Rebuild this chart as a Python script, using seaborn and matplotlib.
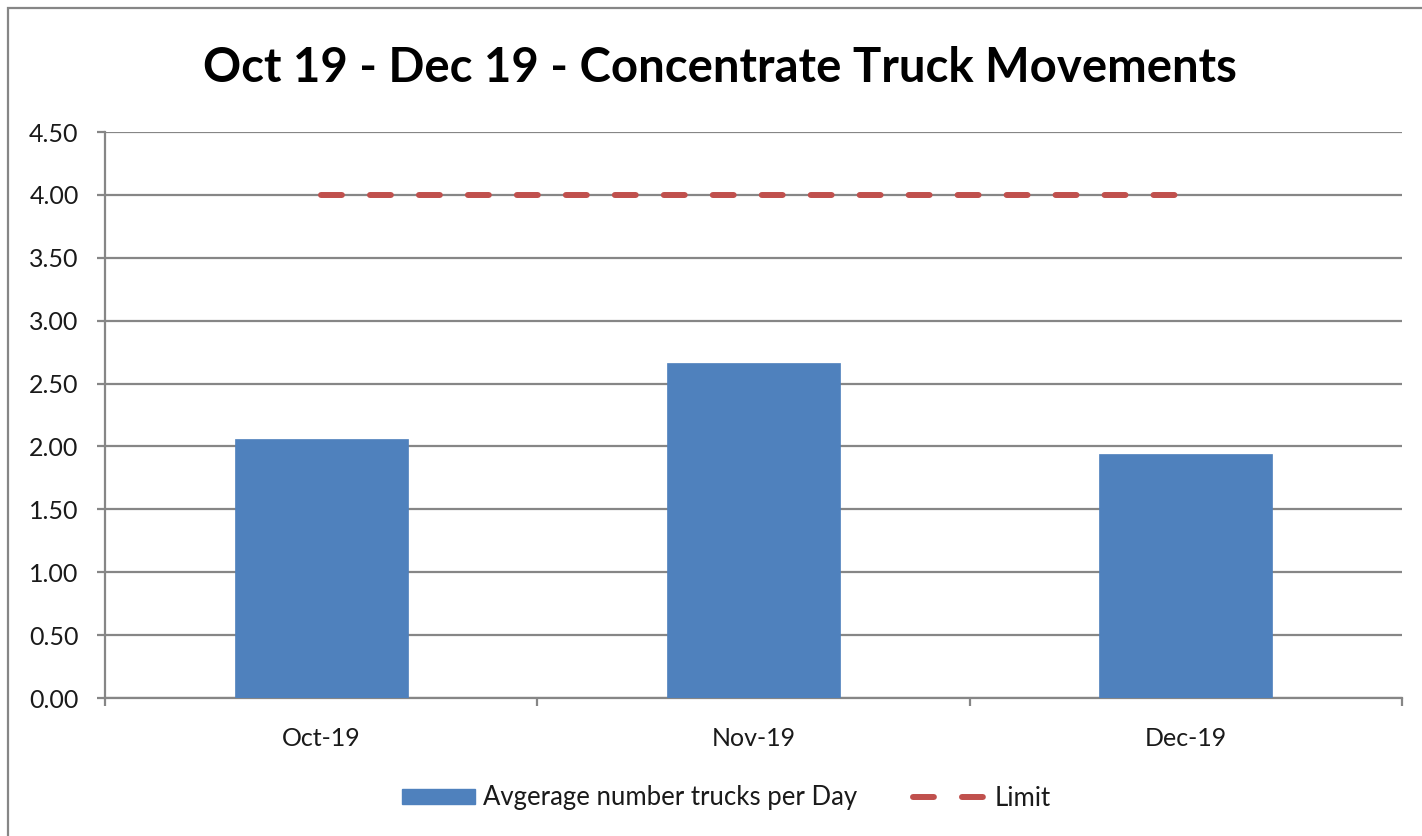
import matplotlib
matplotlib.use("Agg")
import matplotlib.pyplot as plt
from matplotlib.patches import Rectangle, Patch
from matplotlib.lines import Line2D
import seaborn as sns
import pandas as pd

categories = ["Oct-19", "Nov-19", "Dec-19"]
avg_trucks = [2.06, 2.66, 1.94]
limit = [4.0, 4.0, 4.0]
yticks = [0.0, 0.5, 1.0, 1.5, 2.0, 2.5, 3.0, 3.5, 4.0, 4.5]
title = "Oct 19 - Dec 19 - Concentrate Truck Movements"
bar_label = "Avgerage number trucks per Day"
limit_label = "Limit"

BLUE = "#4F81BD"
RED = "#C0504D"
GREY = "#868686"

sns.set_theme(style="white")
plt.rcParams["font.family"] = ["Lato", "DejaVu Sans"]

W, H = 1422, 836
fig = plt.figure(figsize=(W / 100, H / 100), dpi=100)
fig.patch.set_facecolor("white")
ax = fig.add_axes([105 / W, (H - 698) / H, 1297 / W, (698 - 132) / H])

df = pd.DataFrame({"month": categories, "value": avg_trucks, "limit": limit})
sns.barplot(data=df, x="month", y="value", color=BLUE, saturation=1, width=0.4,
            ax=ax, edgecolor=BLUE, linewidth=0.5, zorder=3)
sns.lineplot(data=df, x="month", y="limit", ax=ax, color=RED, linewidth=4.3,
             sort=False, zorder=4)
ln = ax.lines[-1]
ln.set_linestyle((0, (3.5, 4.7)))
ln.set_dash_capstyle("round")

ax.set_xlim(-0.5, 2.5)
ax.set_ylim(0, 4.5)
ax.set_yticks(yticks)
ax.set_yticklabels([f"{v:.2f}" for v in yticks])
ax.set_xlabel("")
ax.set_ylabel("")

ax.yaxis.grid(True, color=GREY, linewidth=1.6, zorder=0)
ax.set_axisbelow(True)
for s in ["top", "right"]:
    ax.spines[s].set_visible(False)
for s in ["left", "bottom"]:
    ax.spines[s].set_color(GREY)
    ax.spines[s].set_linewidth(1.6)

ax.tick_params(axis="y", which="major", length=6, width=1.6, color=GREY,
               direction="out", pad=13, labelsize=18, labelcolor="#1a1a1a", left=True)
ax.tick_params(axis="x", which="major", length=0, pad=21, labelsize=18,
               labelcolor="#1a1a1a")
ax.set_xticks([-0.5, 0.5, 1.5, 2.5], minor=True)
ax.tick_params(axis="x", which="minor", length=6, width=1.6, color=GREY,
               direction="out", bottom=True)

fig.text(720 / W, 1 - 68 / H, title, ha="center", va="center",
         fontsize=34, fontweight="bold", color="black")

handles = [Patch(facecolor=BLUE, edgecolor=BLUE),
           Line2D([0], [0], color=RED, linewidth=4.3, linestyle=(0, (3.5, 4.7)),
                  dash_capstyle="round")]
fig.legend(handles, [bar_label, limit_label], loc="center",
           bbox_to_anchor=(726 / W, 1 - 798 / H), ncol=2, frameon=False,
           fontsize=18.5, handlelength=2.85, handleheight=0.55, columnspacing=2.2,
           handletextpad=0.3, labelcolor="#1a1a1a")

fig.add_artist(Rectangle((8 / W, -0.1), 1.2, 1.1 - 8 / H, transform=fig.transFigure,
                         facecolor="none", edgecolor=GREY, linewidth=1.6))

fig.savefig("out.png", dpi=100, facecolor="white")
